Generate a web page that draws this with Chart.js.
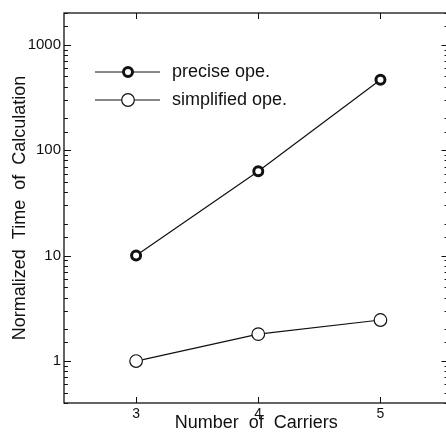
<!DOCTYPE html>
<html>
<head>
<meta charset="utf-8">
<script src="https://cdn.jsdelivr.net/npm/chart.js@4"></script>
<style>
  html, body { margin: 0; padding: 0; background: #fff; overflow: hidden; }
  #wrap { width: 456px; height: 439px; }
</style>
</head>
<body>
<div id="wrap"><canvas id="grafico"></canvas></div>
<script>
const carriers = [3, 4, 5];
const preciseTime = [10, 63, 465];
const simplifiedTime = [1, 1.8, 2.45];
const xTicks = [3, 4, 5];
const seriesNames = ['precise ope.', 'simplified ope.'];

const fonte = 'Liberation Sans, Arial, sans-serif';

// inward tick marks + frame, like the scanned figure
const molduraPlugin = {
    id: 'moldura',
    afterDraw(chart) {
        const ctx = chart.ctx;
        const a = chart.chartArea;
        const x = chart.scales.x;
        const y = chart.scales.y;
        ctx.save();
        ctx.strokeStyle = '#111';
        ctx.lineWidth = 1.3;
        ctx.strokeRect(a.left, a.top, a.right - a.left, a.bottom - a.top);
        ctx.lineWidth = 1;
        ctx.beginPath();
        x.ticks.forEach(function (t) {
            const px = Math.round(x.getPixelForValue(t.value)) + 0.5;
            ctx.moveTo(px, a.bottom); ctx.lineTo(px, a.bottom - 6);
            ctx.moveTo(px, a.top); ctx.lineTo(px, a.top + 6);
        });
        y.ticks.forEach(function (t) {
            const py = Math.round(y.getPixelForValue(t.value)) + 0.5;
            const lg = Math.log10(t.value);
            const len = Math.abs(lg - Math.round(lg)) < 1e-9 ? 7 : 4;
            ctx.moveTo(a.left, py); ctx.lineTo(a.left + len, py);
            ctx.moveTo(a.right, py); ctx.lineTo(a.right - len, py);
        });
        ctx.stroke();

        // legend inside the plot
        chart.data.datasets.forEach(function (ds, i) {
            const ly = 72 + i * 28;
            ctx.lineWidth = 1;
            ctx.strokeStyle = '#111';
            ctx.beginPath();
            ctx.moveTo(95, ly); ctx.lineTo(160, ly);
            ctx.stroke();
            ctx.beginPath();
            ctx.arc(128, ly, ds.pointRadius, 0, Math.PI * 2);
            ctx.fillStyle = '#fff';
            ctx.fill();
            ctx.lineWidth = ds.pointBorderWidth;
            ctx.stroke();
            ctx.fillStyle = '#111';
            ctx.font = '18px ' + fonte;
            ctx.textBaseline = 'middle';
            ctx.fillText(ds.label, 172, ly);
        });
        ctx.restore();
    }
};

const ctxGrafico = document.getElementById('grafico').getContext('2d');
const grafico = new Chart(ctxGrafico, {
    type: 'line',
    data: {
        labels: carriers,
        datasets: [{
            label: seriesNames[0],
            data: carriers.map((c, i) => ({ x: c, y: preciseTime[i] })),
            borderColor: '#111',
            borderWidth: 1.2,
            pointRadius: 4.5,
            pointBorderWidth: 3,
            pointBackgroundColor: '#fff',
            pointBorderColor: '#111',
            tension: 0
        },
        {
            label: seriesNames[1],
            data: carriers.map((c, i) => ({ x: c, y: simplifiedTime[i] })),
            borderColor: '#111',
            borderWidth: 1.2,
            pointRadius: 6.3,
            pointBorderWidth: 1.2,
            pointBackgroundColor: '#fff',
            pointBorderColor: '#111',
            tension: 0
        }]
    },
    options: {
        responsive: true,
        maintainAspectRatio: false,
        animation: false,
        layout: { padding: { top: 13, right: 0, left: 0, bottom: 0 } },
        scales: {
            x: {
                type: 'linear',
                min: 2.41,
                max: 5.557,
                grid: { display: false, drawTicks: false },
                border: { display: false },
                afterBuildTicks: function (scale) {
                    scale.ticks = xTicks.map(v => ({ value: v }));
                },
                afterFit: function (scale) { scale.height = 36; },
                ticks: {
                    color: '#111',
                    padding: 3,
                    maxRotation: 0,
                    minRotation: 0,
                    font: { family: fonte, size: 14 }
                },
                title: {
                    display: true,
                    text: 'Number  of  Carriers',
                    color: '#111',
                    padding: { top: 0, bottom: 5 },
                    font: { family: fonte, size: 18 }
                }
            },
            y: {
                type: 'logarithmic',
                min: 0.4,
                max: 2000,
                grid: { display: false, drawTicks: false },
                border: { display: false },
                afterFit: function (scale) { scale.width = 64; },
                ticks: {
                    autoSkip: false,
                    color: '#111',
                    padding: 3,
                    font: { family: fonte, size: 15 },
                    callback: function (value) {
                        const lg = Math.log10(value);
                        return Math.abs(lg - Math.round(lg)) < 1e-9 ? String(value) : '';
                    }
                },
                title: {
                    display: true,
                    text: 'Normalized  Time  of  Calculation',
                    color: '#111',
                    padding: { top: 9, bottom: 0 },
                    font: { family: fonte, size: 18 }
                }
            }
        },
        plugins: {
            legend: { display: false },
            tooltip: { enabled: false }
        }
    },
    plugins: [molduraPlugin]
});
</script>
</body>
</html>
